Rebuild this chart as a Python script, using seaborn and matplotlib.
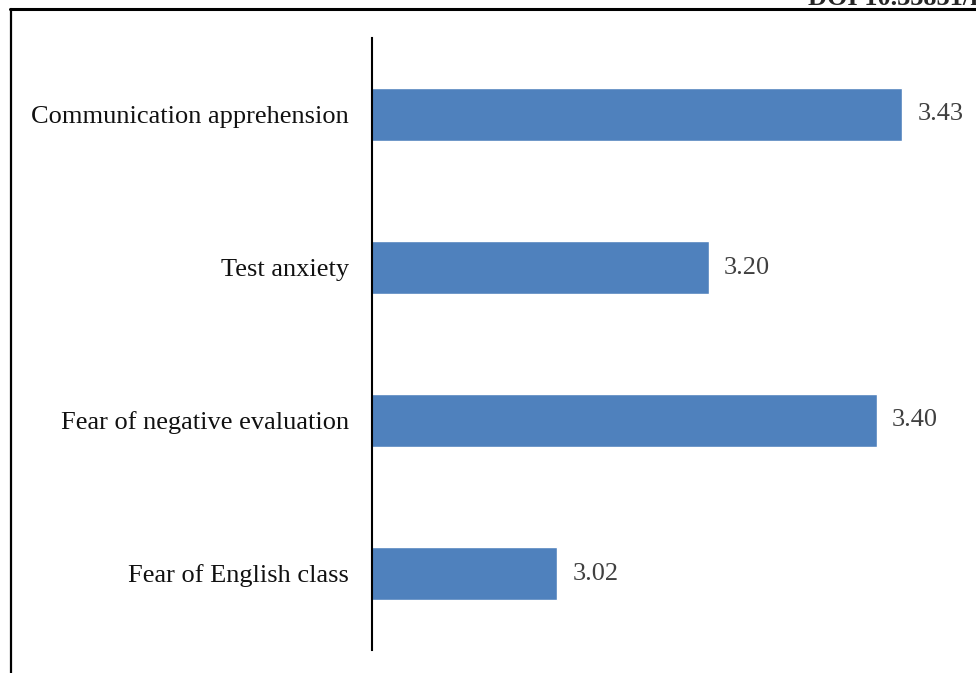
import matplotlib
matplotlib.use("Agg")
import matplotlib.pyplot as plt
import seaborn as sns
import pandas as pd
from matplotlib.lines import Line2D

categories = ["Communication apprehension", "Test anxiety", "Fear of negative evaluation", "Fear of English class"]
values = [3.43, 3.20, 3.40, 3.02]
labels = ["3.43", "3.20", "3.40", "3.02"]

sns.set_style("white")
plt.rcParams["font.family"] = ["Liberation Serif", "DejaVu Serif"]

fig = plt.figure(figsize=(9.76, 6.73), dpi=100)
ax = fig.add_axes([372/976, 1-650/673, (961-372)/976, (650-38)/673])

df = pd.DataFrame({"cat": categories, "val": values})
sns.barplot(data=df, x="val", y="cat", orient="h", color="#4F81BD", saturation=1,
            width=0.35, ax=ax)

ax.set_xlim(2.8, 3.5)
ax.set_ylim(3.5, -0.5)
ax.set_xlabel("")
ax.set_ylabel("")
ax.set_xticks([])
for s in ["top", "right", "bottom"]:
    ax.spines[s].set_visible(False)
ax.spines["left"].set_color("black")
ax.spines["left"].set_linewidth(1.5)
ax.tick_params(axis="y", length=0, pad=16.5, labelsize=19, labelcolor="#111111")

for p, lab in zip(ax.patches, labels):
    ax.annotate(lab, (p.get_width(), p.get_y() + p.get_height()/2),
                xytext=(11, 0), textcoords="offset points", va="center", ha="left",
                fontsize=19, color="#404040")

# frame
fig.add_artist(Line2D([10.5/976, 10.5/976], [0, 1-9/673], transform=fig.transFigure, color="black", lw=1.6))
fig.add_artist(Line2D([10/976, 1], [1-9/673, 1-9/673], transform=fig.transFigure, color="black", lw=2.2))
fig.text(808/976, 1-5/673, "DOI 10.33831/ls", fontsize=19, fontweight="bold", ha="left", va="baseline")

fig.savefig("out.png", dpi=100)
